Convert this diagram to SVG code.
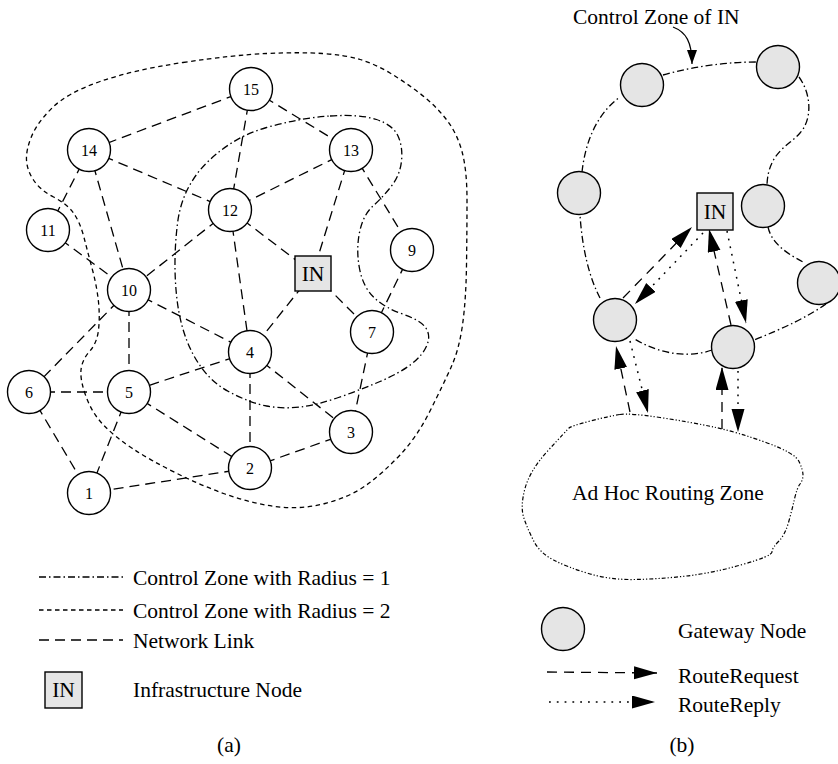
<svg xmlns="http://www.w3.org/2000/svg" width="838" height="764" viewBox="0 0 838 764">
  <style>
    text { font-family: "Liberation Serif", "Times New Roman", serif; fill: #000; }
    .lbl { font-size: 21.5px; }
    .num { font-size: 16px; text-anchor: middle; }
    .node { fill: #fff; stroke: #000; stroke-width: 1.4; }
    .gw { fill: #e5e5e5; stroke: #000; stroke-width: 1.4; }
    .inbox { fill: #e5e5e5; stroke: #000; stroke-width: 1.4; }
    .link { stroke: #000; stroke-width: 1.3; fill: none; stroke-dasharray: 10 6; }
    .zone1 { stroke: #000; stroke-width: 1.3; fill: none; stroke-dasharray: 7 3 1.5 3; }
    .zone2 { stroke: #000; stroke-width: 1.3; fill: none; stroke-dasharray: 4.5 3.5; }
    .adhoc { stroke: #000; stroke-width: 1.2; fill: none; stroke-dasharray: 4 2 1.2 2 1.2 2; }
    .req { stroke: #000; stroke-width: 1.3; fill: none; stroke-dasharray: 10 7; marker-end: url(#head); }
    .rep { stroke: #000; stroke-width: 1.5; fill: none; stroke-dasharray: 1.8 6; marker-end: url(#head); }
  </style>
  <defs>
    <marker id="head" markerUnits="userSpaceOnUse" markerWidth="26" markerHeight="16" refX="23" refY="6.5" orient="auto">
      <path d="M0,0 L23,6.5 L0,13 Z" fill="#000"/>
    </marker>
    <marker id="small" markerUnits="userSpaceOnUse" markerWidth="16" markerHeight="12" refX="14" refY="5" orient="auto">
      <path d="M0,0 L14,5 L0,10 Z" fill="#000"/>
    </marker>
  </defs>

  <!-- (a) control zones -->
  <g id="zones-a">
    <path class="zone2" d="M183,62.5 Q233,55 266.5,53.5 Q300,52 322.5,53.5 Q345,55 360,59.5 Q375,64 390,73 Q405,82 420,93.5 Q435,105 446,119 Q457,133 462,151.5 Q467,170 467,200 Q467,230 466.5,265 Q466,300 462.5,325 Q459,350 451,367.5 Q443,385 430,411 Q417,437 400,455 Q383,473 366.5,485 Q350,497 325,503.5 Q300,510 275,506.5 Q250,503 225,494 Q200,485 175,472.5 Q150,460 132.5,448.5 Q115,437 103.5,425 Q92,413 86,396.5 Q80,380 81,370 Q82,360 89.5,351.5 Q97,343 98.5,330 Q100,317 98.5,302 Q97,287 92.5,270 Q88,253 84,237.5 Q80,222 73.5,213 Q67,204 53.5,197 Q40,190 33.5,180 Q27,170 26.5,160 Q26,150 31.5,136.5 Q37,123 52,108 Q67,93 100,81.5 Q133,70 183,62.5 Z"/>
    <path class="zone1" d="M330,116 Q360,114 376.5,119.5 Q393,125 398,136 Q403,147 401.5,161 Q400,175 391.5,186 Q383,197 373,206 Q363,215 359.5,232.5 Q356,250 359.5,268.5 Q363,287 374,297.5 Q385,308 402.5,314 Q420,320 425.5,327.5 Q431,335 427,345 Q423,355 411.5,364 Q400,373 380,381.5 Q360,390 338.5,397.5 Q317,405 300,407 Q283,409 266.5,406 Q250,403 228.5,391.5 Q207,380 193.5,355 Q180,330 176.5,295 Q173,260 177.5,223.5 Q182,187 207.5,162 Q233,137 266.5,127.5 Q300,118 330,116 Z"/>
  </g>

  <!-- (a) network links -->
  <g id="links-a">
    <line class="link" x1="251" y1="89" x2="89" y2="150"/>
    <line class="link" x1="251" y1="89" x2="230" y2="210"/>
    <line class="link" x1="251" y1="89" x2="351" y2="150"/>
    <line class="link" x1="89" y1="150" x2="230" y2="210"/>
    <line class="link" x1="89" y1="150" x2="48" y2="230"/>
    <line class="link" x1="89" y1="150" x2="129" y2="290"/>
    <line class="link" x1="351" y1="150" x2="230" y2="210"/>
    <line class="link" x1="351" y1="150" x2="313" y2="273"/>
    <line class="link" x1="351" y1="150" x2="412" y2="250"/>
    <line class="link" x1="230" y1="210" x2="129" y2="290"/>
    <line class="link" x1="230" y1="210" x2="313" y2="273"/>
    <line class="link" x1="230" y1="210" x2="250" y2="352"/>
    <line class="link" x1="48" y1="230" x2="129" y2="290"/>
    <line class="link" x1="129" y1="290" x2="250" y2="352"/>
    <line class="link" x1="129" y1="290" x2="129" y2="392"/>
    <line class="link" x1="129" y1="290" x2="29" y2="392"/>
    <line class="link" x1="313" y1="273" x2="250" y2="352"/>
    <line class="link" x1="313" y1="273" x2="372" y2="332"/>
    <line class="link" x1="412" y1="250" x2="372" y2="332"/>
    <line class="link" x1="372" y1="332" x2="351" y2="432"/>
    <line class="link" x1="250" y1="352" x2="129" y2="392"/>
    <line class="link" x1="250" y1="352" x2="250" y2="468"/>
    <line class="link" x1="250" y1="352" x2="351" y2="432"/>
    <line class="link" x1="29" y1="392" x2="129" y2="392"/>
    <line class="link" x1="29" y1="392" x2="89" y2="493"/>
    <line class="link" x1="129" y1="392" x2="89" y2="493"/>
    <line class="link" x1="129" y1="392" x2="250" y2="468"/>
    <line class="link" x1="250" y1="468" x2="89" y2="493"/>
    <line class="link" x1="250" y1="468" x2="351" y2="432"/>
  </g>

  <!-- (a) nodes -->
  <g id="n15"><circle class="node" cx="251" cy="89" r="21.5"/><text class="num" x="251" y="94.5">15</text></g>
  <g id="n14"><circle class="node" cx="89" cy="150" r="21.5"/><text class="num" x="89" y="155.5">14</text></g>
  <g id="n13"><circle class="node" cx="351" cy="150" r="21.5"/><text class="num" x="351" y="155.5">13</text></g>
  <g id="n12"><circle class="node" cx="230" cy="210" r="21.5"/><text class="num" x="230" y="215.5">12</text></g>
  <g id="n11"><circle class="node" cx="48" cy="230" r="21.5"/><text class="num" x="48" y="235.5">11</text></g>
  <g id="n9"><circle class="node" cx="412" cy="250" r="21.5"/><text class="num" x="412" y="255.5">9</text></g>
  <g id="n10"><circle class="node" cx="129" cy="290" r="21.5"/><text class="num" x="129" y="295.5">10</text></g>
  <g id="n7"><circle class="node" cx="372" cy="332" r="21.5"/><text class="num" x="372" y="337.5">7</text></g>
  <g id="n4"><circle class="node" cx="250" cy="352" r="21.5"/><text class="num" x="250" y="357.5">4</text></g>
  <g id="n6"><circle class="node" cx="29" cy="392" r="21.5"/><text class="num" x="29" y="397.5">6</text></g>
  <g id="n5"><circle class="node" cx="129" cy="392" r="21.5"/><text class="num" x="129" y="397.5">5</text></g>
  <g id="n3"><circle class="node" cx="351" cy="432" r="21.5"/><text class="num" x="351" y="437.5">3</text></g>
  <g id="n2"><circle class="node" cx="250" cy="468" r="21.5"/><text class="num" x="250" y="473.5">2</text></g>
  <g id="n1"><circle class="node" cx="89" cy="493" r="21.5"/><text class="num" x="89" y="498.5">1</text></g>
  <g id="in-a"><rect class="inbox" x="295" y="256" width="36" height="35"/><text class="lbl" x="313" y="281" text-anchor="middle">IN</text></g>

  <!-- (a) legend -->
  <g id="legend-a">
    <line class="zone1" x1="39" y1="577" x2="123" y2="577"/>
    <text class="lbl" x="133" y="585">Control Zone with Radius = 1</text>
    <line class="zone2" x1="39" y1="610" x2="123" y2="610"/>
    <text class="lbl" x="133" y="618">Control Zone with Radius = 2</text>
    <line class="link" x1="39" y1="640" x2="123" y2="640"/>
    <text class="lbl" x="133" y="648">Network Link</text>
    <rect class="inbox" x="45" y="672" width="37" height="36"/>
    <text class="lbl" x="63.5" y="697" text-anchor="middle">IN</text>
    <text class="lbl" x="133" y="697">Infrastructure Node</text>
    <text class="lbl" x="229" y="752" text-anchor="middle">(a)</text>
  </g>

  <!-- (b) control zone of IN and ad hoc zone -->
  <g id="zones-b">
    <path class="zone1" d="M663,75 Q710,62 757,62"/>
    <path class="zone1" d="M799,77 C812,95 812,120 800,133 C790,145 768,152 767,185"/>
    <path class="zone1" d="M768,227 C772,245 790,255 803,262"/>
    <path class="zone1" d="M826,304 Q800,322 754,340"/>
    <path class="zone1" d="M712,350 C690,358 660,355 633,338"/>
    <path class="zone1" d="M600,298 C588,275 582,245 580,215"/>
    <path class="zone1" d="M582,172 C585,145 595,115 620,97"/>
    <path class="adhoc" d="M620,414.5 Q630,413 660,417.5 Q690,422 713.5,427 Q737,432 766,442.5 Q795,453 799,461.5 Q803,470 803,475 Q803,480 800,484 Q797,488 794.5,499 Q792,510 788.5,522.5 Q785,535 778.5,541.5 Q772,548 772,552 Q772,556 742.5,564.5 Q713,573 686.5,576 Q660,579 635,579.5 Q610,580 588.5,573.5 Q567,567 553.5,560 Q540,553 534,541.5 Q528,530 524,518.5 Q520,507 525,488.5 Q530,470 548.5,450 Q567,430 569,428 Q571,426 590.5,421 Q610,416 620,414.5 Z"/>
    <text class="lbl" x="573" y="24">Control Zone of IN</text>
    <path d="M673,27 C686,32 692,42 692,64" fill="none" stroke="#000" stroke-width="1.2" marker-end="url(#small)"/>
    <text class="lbl" x="572" y="500">Ad Hoc Routing Zone</text>
  </g>

  <!-- (b) route request / reply connectors -->
  <g id="routes-b">
    <line class="req" x1="623" y1="298" x2="692" y2="227"/>
    <line class="rep" x1="703" y1="233" x2="635" y2="304"/>
    <line class="req" x1="731" y1="325" x2="709" y2="229"/>
    <line class="rep" x1="727" y1="231" x2="746" y2="323"/>
    <line class="req" x1="630" y1="412" x2="616" y2="346"/>
    <line class="rep" x1="630" y1="341" x2="648" y2="413"/>
    <line class="req" x1="722" y1="429" x2="722" y2="367"/>
    <line class="rep" x1="738" y1="371" x2="738" y2="432"/>
  </g>

  <!-- (b) gateway nodes -->
  <g id="g1"><circle class="gw" cx="642" cy="85" r="21.5"/></g>
  <g id="g2"><circle class="gw" cx="778" cy="67" r="21.5"/></g>
  <g id="g3"><circle class="gw" cx="579" cy="193" r="21.5"/></g>
  <g id="g4"><circle class="gw" cx="763" cy="206" r="21.5"/></g>
  <g id="g5"><circle class="gw" cx="819" cy="283" r="21.5"/></g>
  <g id="g6"><circle class="gw" cx="615" cy="320" r="21.5"/></g>
  <g id="g7"><circle class="gw" cx="733" cy="347" r="21.5"/></g>
  <g id="in-b"><rect class="inbox" x="697" y="193" width="36" height="37"/><text class="lbl" x="715" y="219" text-anchor="middle">IN</text></g>

  <!-- (b) legend -->
  <g id="legend-b">
    <circle class="gw" cx="563" cy="629" r="21.5"/>
    <text class="lbl" x="678" y="638">Gateway Node</text>
    <line class="req" x1="547" y1="672" x2="657" y2="673"/>
    <text class="lbl" x="678" y="683">RouteRequest</text>
    <line class="rep" x1="549" y1="702" x2="655" y2="702"/>
    <text class="lbl" x="678" y="712">RouteReply</text>
    <text class="lbl" x="682" y="752" text-anchor="middle">(b)</text>
  </g>
</svg>
